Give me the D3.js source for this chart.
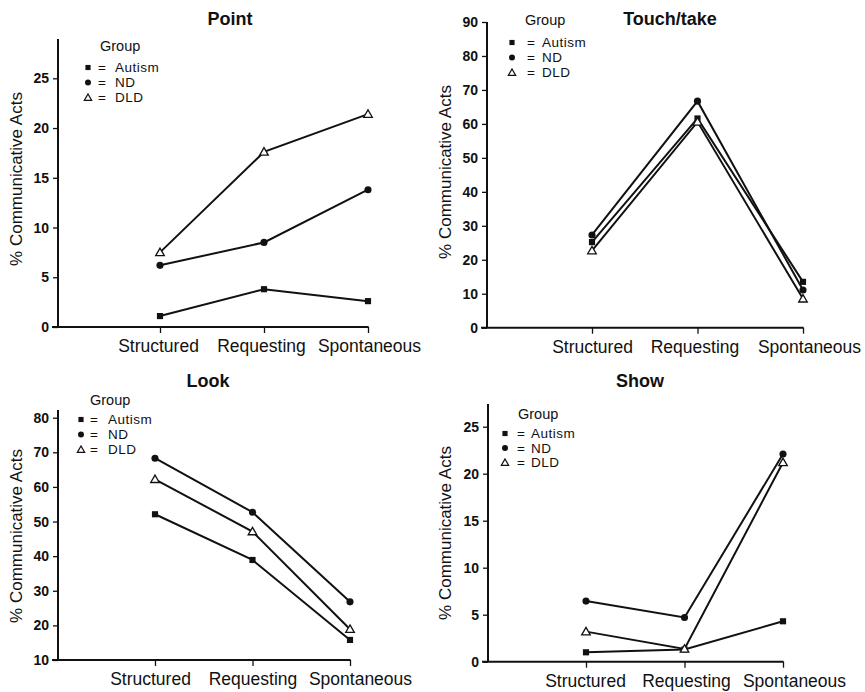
<!DOCTYPE html>
<html>
<head>
<meta charset="utf-8">
<script src="https://cdn.jsdelivr.net/npm/d3@7"></script>
<style>
  body { margin: 0; background: #fff; }
  text { font-family: "Liberation Sans", Arial, sans-serif; fill: #111; }
</style>
</head>
<body>
<script>
// data
const categories = ['Structured', 'Requesting', 'Spontaneous'];
const groups = ['Autism', 'ND', 'DLD'];

const pointAutism = [1.1, 3.8, 2.6];
const pointND = [6.2, 8.5, 13.8];
const pointDLD = [7.5, 17.6, 21.4];
const pointTicks = [0, 5, 10, 15, 20, 25];

const touchAutism = [25.2, 61.6, 13.5];
const touchND = [27.3, 66.7, 11.1];
const touchDLD = [22.7, 60.6, 8.5];
const touchTicks = [0, 10, 20, 30, 40, 50, 60, 70, 80, 90];

const lookAutism = [52.1, 38.9, 15.8];
const lookND = [68.3, 52.7, 26.8];
const lookDLD = [62.2, 47.1, 18.9];
const lookTicks = [10, 20, 30, 40, 50, 60, 70, 80];

const showAutism = [1.0, 1.3, 4.3];
const showND = [6.45, 4.7, 22.1];
const showDLD = [3.2, 1.35, 21.2];
const showTicks = [0, 5, 10, 15, 20, 25];

const width = 865;
const height = 692;

const svg = d3.select('body').append('svg')
  .attr('width', width)
  .attr('height', height);

const symbolFor = {
  Autism: d3.symbol().type(d3.symbolSquare),
  ND: d3.symbol().type(d3.symbolCircle),
  DLD: d3.symbol().type(d3.symbolTriangle),
};
const symbolSize = { Autism: 38, ND: 40, DLD: 32 };

const drawMarker = (g, group, x, y, scale) => {
  g.append('path')
    .attr('d', symbolFor[group].size(symbolSize[group] * scale)())
    .attr('transform', `translate(${x},${y + (group === 'DLD' ? 0.7 : 0)})`)
    .attr('fill', group === 'DLD' ? '#fff' : '#111')
    .attr('stroke', '#111')
    .attr('stroke-width', group === 'DLD' ? 1.3 : 0);
};

const drawPanel = (p) => {
  const g = svg.append('g');

  const x = d3.scalePoint().domain(categories).range(p.catRange);
  const y = d3.scaleLinear()
    .domain([p.ticks[0], p.ticks[p.ticks.length - 1]])
    .range([p.bottom, p.topTick]);

  // y axis
  const yAxis = g.append('g')
    .attr('transform', `translate(${p.left},0)`)
    .call(d3.axisLeft(y).tickValues(p.ticks).tickSize(5).tickPadding(4));
  yAxis.select('.domain').remove();
  yAxis.selectAll('line').attr('stroke', '#111').attr('stroke-width', 1.3);
  yAxis.selectAll('text')
    .style('font-family', '"Liberation Sans", Arial, sans-serif')
    .style('font-size', '14px')
    .style('font-weight', 'bold')
    .attr('fill', '#111');
  g.append('line')
    .attr('x1', p.left).attr('x2', p.left)
    .attr('y1', p.bottom).attr('y2', p.axisTop)
    .attr('stroke', '#111').attr('stroke-width', 2);

  // x axis
  const xAxis = g.append('g')
    .attr('transform', `translate(0,${p.bottom})`)
    .call(d3.axisBottom(x).tickSize(6).tickPadding(6.5));
  xAxis.select('.domain').remove();
  xAxis.selectAll('line').attr('stroke', '#111').attr('stroke-width', 1.3);
  xAxis.selectAll('text')
    .style('font-family', '"Liberation Sans", Arial, sans-serif')
    .style('font-size', '17.5px')
    .attr('fill', '#111')
    .attr('dx', (d, i) => p.labelShift[i]);
  g.append('line')
    .attr('x1', p.left - 6).attr('x2', p.catRange[1] + 0.6)
    .attr('y1', p.bottom).attr('y2', p.bottom)
    .attr('stroke', '#111').attr('stroke-width', 2);

  // title
  g.append('text')
    .attr('x', p.titleX).attr('y', p.titleY)
    .attr('text-anchor', 'middle')
    .style('font-size', '18px')
    .style('font-weight', 'bold')
    .text(p.title);

  // y label
  g.append('text')
    .attr('transform', `translate(${p.ylabX},${p.ylabY}) rotate(-90)`)
    .attr('text-anchor', 'middle')
    .attr('dominant-baseline', 'central')
    .style('font-size', '17px')
    .text('% Communicative Acts');

  // lines + markers
  const line = d3.line()
    .x((d, i) => x(categories[i]))
    .y((d) => y(d));

  groups.forEach((grp) => {
    g.append('path')
      .datum(p.series[grp])
      .attr('d', line)
      .attr('fill', 'none')
      .attr('stroke', '#111')
      .attr('stroke-width', 2);
  });
  groups.forEach((grp) => {
    p.series[grp].forEach((v, i) => drawMarker(g, grp, x(categories[i]), y(v), 1));
  });

  // legend
  const lg = p.legend;
  g.append('text')
    .attr('x', lg.groupX).attr('y', lg.y)
    .style('font-size', '14.5px')
    .text('Group');
  groups.forEach((grp, i) => {
    const base = lg.row0 + i * lg.step;
    drawMarker(g, grp, lg.markX, base - 4.5, 0.7);
    const t = g.append('text')
      .attr('x', lg.eqX).attr('y', base)
      .style('font-size', '13.5px')
      .style('letter-spacing', '0.5px');
    t.append('tspan').text('=');
    t.append('tspan').attr('x', lg.nameX).text(grp);
  });
};

drawPanel({
  title: 'Point', titleX: 230, titleY: 25,
  left: 58, bottom: 327, topTick: 78.3, axisTop: 39,
  catRange: [160, 368], ticks: pointTicks, labelShift: [-2, -3, 1],
  ylabX: 16, ylabY: 179,
  legend: { markX: 88, groupX: 100, eqX: 98, nameX: 115, y: 51, row0: 72, step: 15 },
  series: { Autism: pointAutism, ND: pointND, DLD: pointDLD },
});

drawPanel({
  title: 'Touch/take', titleX: 670, titleY: 25,
  left: 487, bottom: 327.7, topTick: 22, axisTop: 22,
  catRange: [592, 803], ticks: touchTicks, labelShift: [0, -3, 6],
  ylabX: 445, ylabY: 172,
  legend: { markX: 512, groupX: 525, eqX: 527, nameX: 542, y: 25, row0: 47, step: 15 },
  series: { Autism: touchAutism, ND: touchND, DLD: touchDLD },
});

drawPanel({
  title: 'Look', titleX: 208, titleY: 387,
  left: 58, bottom: 660, topTick: 417.7, axisTop: 410,
  catRange: [155, 350], ticks: lookTicks, labelShift: [-5, 0, 10],
  ylabX: 16, ylabY: 536,
  legend: { markX: 81, groupX: 90, eqX: 90, nameX: 108, y: 405, row0: 424, step: 15 },
  series: { Autism: lookAutism, ND: lookND, DLD: lookDLD },
});

drawPanel({
  title: 'Show', titleX: 640, titleY: 387,
  left: 488, bottom: 661.7, topTick: 426.7, axisTop: 404,
  catRange: [586, 783], ticks: showTicks, labelShift: [-1, 1.5, 11],
  ylabX: 445, ylabY: 533,
  legend: { markX: 505, groupX: 518, eqX: 517, nameX: 531, y: 419, row0: 438, step: 14.5 },
  series: { Autism: showAutism, ND: showND, DLD: showDLD },
});
</script>
</body>
</html>
